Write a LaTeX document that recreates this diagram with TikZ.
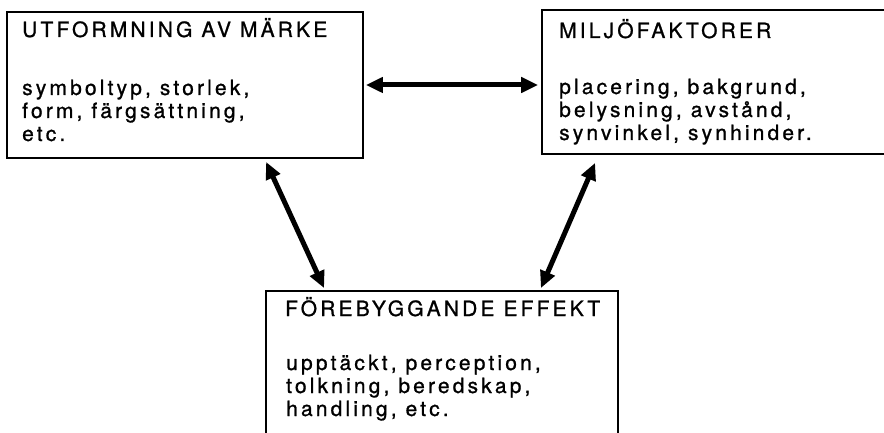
\documentclass[tikz,border=0pt]{standalone}
\usepackage{fontspec}
\setmainfont{TeX Gyre Heros}[LetterSpace=15,FakeBold=1]
\usetikzlibrary{arrows.meta}
\begin{document}
\begin{tikzpicture}[x=1pt,y=-1pt,
  box/.style={draw, line width=1.8pt, inner sep=0pt},
  txt/.style={anchor=base west, inner sep=0pt, align=left, font=\fontsize{21}{23}\selectfont},
  arr/.style={{Triangle[length=17pt,width=15pt]}-{Triangle[length=17pt,width=15pt]}, line width=5pt}]
\useasboundingbox (0,0) rectangle (884,433);
\clip (0,0) rectangle (884,433);
\fill[white] (0,0) rectangle (884,433);
% boxes
\node[box, minimum width=356pt, minimum height=146pt] (A) at (185,85) {};
\node[box, minimum width=358pt, minimum height=144pt] (B) at (721,82) {};
\node[box, minimum width=352pt, minimum height=169pt] (C) at (442,375.5) {};
% texts (base anchor = baseline of the last line)
\node[txt] (At) at (22,37) {UTFORMNING AV MÄRKE};
\node[txt] (Ab) at (22,141) {symboltyp, storlek,\\form, färgsättning,\\etc.};
\node[txt] (Bt) at (559,38) {MILJÖFAKTORER};
\node[txt] (Bb) at (559,140) {placering, bakgrund,\\belysning, avstånd,\\synvinkel, synhinder.};
\node[txt] (Ct) at (285,316) {FÖREBYGGANDE EFFEKT};
\node[txt] (Cb) at (286,416) {upptäckt, perception,\\tolkning, beredskap,\\handling, etc.};
% arrows
\draw[arr] ([xshift=2pt]A.east) -- ([xshift=-3pt]A.east -| B.west);
\draw[arr] ([xshift=260pt,yshift=-3pt]A.south west) -- ([xshift=59pt,yshift=2pt]C.north west);
\draw[arr] ([xshift=54pt,yshift=-8pt]B.south west) -- ([xshift=-78pt,yshift=2pt]C.north east);
\end{tikzpicture}
\end{document}
